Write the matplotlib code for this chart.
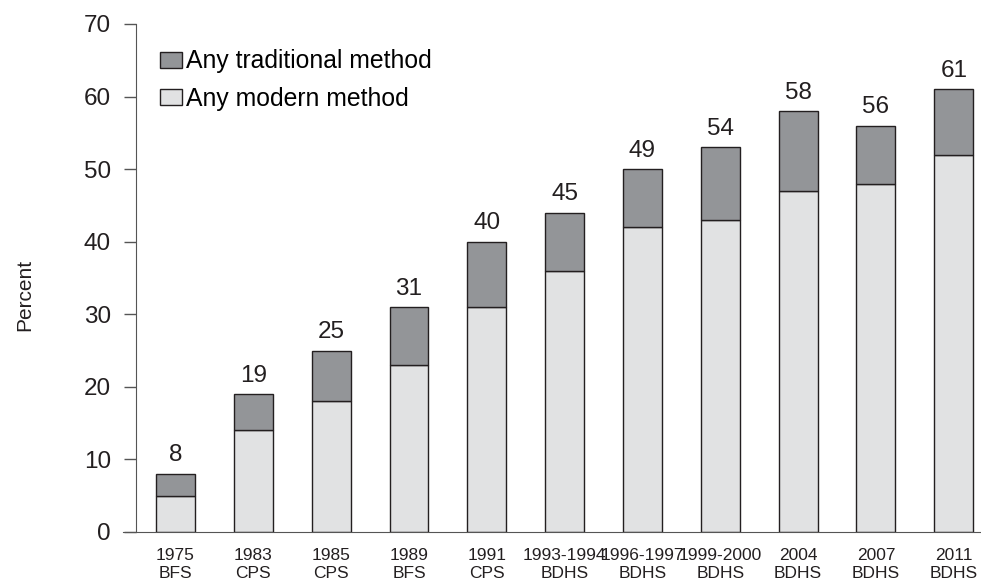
import numpy as np
import matplotlib
matplotlib.use("Agg")
import matplotlib.pyplot as plt
from matplotlib.patches import Patch

plt.rcParams['font.family'] = ['Liberation Sans', 'DejaVu Sans']

# survey rounds
years = ['1975', '1983', '1985', '1989', '1991', '1993-1994', '1996-1997',
         '1999-2000', '2004', '2007', '2011']
surveys = ['BFS', 'CPS', 'CPS', 'BFS', 'CPS', 'BDHS', 'BDHS', 'BDHS',
           'BDHS', 'BDHS', 'BDHS']
modern = [5, 14, 18, 23, 31, 36, 42, 43, 47, 48, 52]
traditional = [3, 5, 7, 8, 9, 8, 8, 10, 11, 8, 9]
total_labels = ['8', '19', '25', '31', '40', '45', '49', '54', '58', '56', '61']

dark = '#939598'
light = '#e1e2e3'
edge = '#231f20'

fig = plt.figure(figsize=(9.81, 5.82), dpi=100)
ax = fig.add_axes([136/981, 50/582, 845/981, 508/582])

x = np.arange(len(years))
w = 0.5
ax.bar(x, modern, w, color=light, edgecolor=edge, linewidth=1.0)
ax.bar(x, traditional, w, bottom=modern, color=dark, edgecolor=edge,
       linewidth=1.0)

tops = np.array(modern) + np.array(traditional)
for xi, t, lab in zip(x, tops, total_labels):
    ax.annotate(lab, (xi, t), xytext=(0, 9), textcoords='offset points',
                ha='center', va='baseline', fontsize=17.5, color='#231f20')

ax.set_xlim(-0.508, 10.35)
ax.set_ylim(0, 70)
ax.set_yticks(range(0, 71, 10))
ax.tick_params(axis='y', length=8.6, width=1, color='#555555',
               labelsize=17.5, pad=9.5, labelcolor='#231f20')
ax.set_xticks(x)
ax.set_xticklabels([f'{a}\n{b}' for a, b in zip(years, surveys)],
                   fontsize=12.5, color='#231f20', linespacing=1.25)
ax.tick_params(axis='x', length=0, pad=11.5)

for s in ['top', 'right']:
    ax.spines[s].set_visible(False)
ax.spines['left'].set_color('#555555')
ax.spines['bottom'].set_color('#555555')
ax.spines['bottom'].set_bounds(-0.67, 10.35)

ax.set_ylabel('Percent', fontsize=15, color='#231f20')
ax.yaxis.set_label_coords(-0.12, 0.466)

handles = [Patch(facecolor=dark, edgecolor=edge, linewidth=1.0),
           Patch(facecolor=light, edgecolor=edge, linewidth=1.0)]
ax.legend(handles, ['Any traditional method', 'Any modern method'],
          loc='upper left', bbox_to_anchor=(0.028, 0.95), frameon=False,
          fontsize=17.8, handlelength=0.9, handleheight=0.6,
          handletextpad=0.15, labelspacing=0.53, borderpad=0,
          borderaxespad=0)

fig.savefig('out.png', dpi=100)
